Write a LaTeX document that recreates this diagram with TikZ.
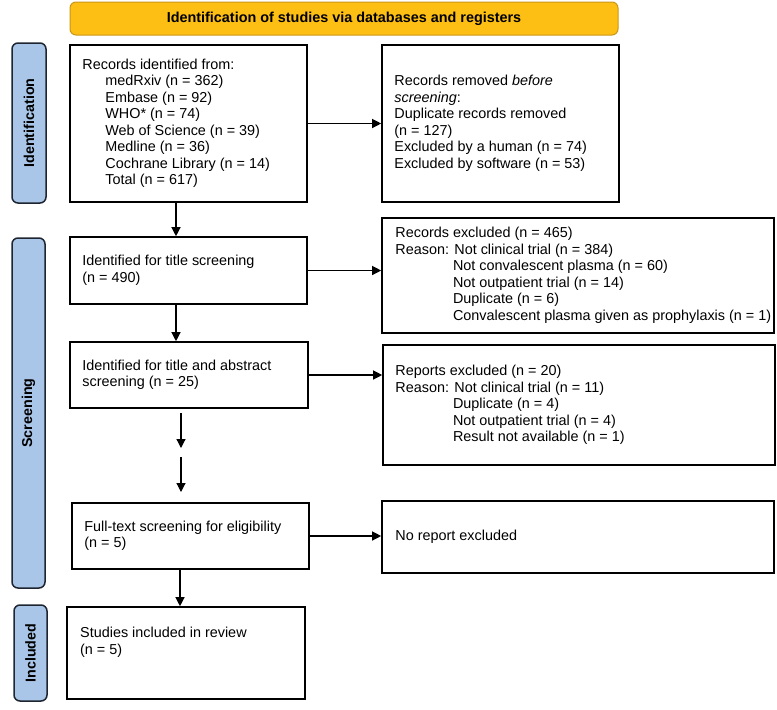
\documentclass[tikz,border=0pt]{standalone}
\usepackage{fontspec}
\setmainfont{Liberation Sans}
\usetikzlibrary{arrows.meta}
\definecolor{bannerfill}{HTML}{FDBF14}
\definecolor{bannerdraw}{HTML}{C9961A}
\definecolor{barfill}{HTML}{A9C6E8}
\definecolor{bardraw}{HTML}{1E2530}
\begin{document}
\begin{tikzpicture}[x=1pt,y=-1pt,
  box/.style={draw=black, line width=1.6pt, rectangle, inner sep=0pt, fill=white},
  txt/.style={inner sep=0pt, align=left, font=\fontsize{14.4}{16.5}\selectfont},
  bar/.style={draw=bardraw, line width=1.5pt, fill=barfill, rounded corners=6pt, inner sep=0pt},
  barlabel/.style={rotate=90, inner sep=0pt, font=\bfseries\fontsize{14.3}{16}\selectfont},
  arr/.style={line width=1.2pt, -{Triangle[length=9pt,width=9pt]}}]
\useasboundingbox (0,0) rectangle (777,710);

% banner
\node[draw=bannerdraw, line width=1pt, fill=bannerfill, rounded corners=6pt,
      minimum width=548pt, minimum height=33pt, inner sep=0pt] (ban) at (344,18.5) {};
\node[inner sep=0pt, font=\bfseries\fontsize{14.4}{16}\selectfont] (bant) at (ban.center)
  {Identification of studies via databases and registers};

% side bars
\node[bar, minimum width=34pt, minimum height=160pt] (bid) at (29,123) {};
\node[barlabel] (bidt) at (bid.center) {Identification};
\node[bar, minimum width=33pt, minimum height=350pt] (bsc) at (28.5,413) {};
\node[barlabel] (bsct) at (bsc.center) {Screening};
\node[bar, minimum width=33pt, minimum height=96pt] (bin) at (30.5,653) {};
\node[barlabel] (bint) at (bin.center) {Included};

% boxes
\node[box, minimum width=237pt, minimum height=157pt] (b1) at (188.5,123.5) {};
\node[box, minimum width=237pt, minimum height=157pt] (b2) at (500.5,123.5) {};
\node[box, minimum width=237pt, minimum height=67pt] (b3) at (188.5,270.5) {};
\node[box, minimum width=392pt, minimum height=115pt] (b4) at (578,275.5) {};
\node[box, minimum width=238pt, minimum height=66pt] (b5) at (189,375) {};
\node[box, minimum width=392pt, minimum height=120pt] (b6) at (579,405) {};
\node[box, minimum width=237pt, minimum height=66pt] (b7) at (190.5,536) {};
\node[box, minimum width=392pt, minimum height=72pt] (b8) at (578,537) {};
\node[box, minimum width=238pt, minimum height=92pt] (b9) at (186,653) {};

% texts
\node[txt, anchor=west] (t1) at ([xshift=13pt]b1.west) {Records identified from:\\
\hspace*{23pt}medRxiv (n = 362)\\
\hspace*{23pt}Embase (n = 92)\\
\hspace*{23pt}WHO* (n = 74)\\
\hspace*{23pt}Web of Science (n = 39)\\
\hspace*{23pt}Medline (n = 36)\\
\hspace*{23pt}Cochrane Library (n = 14)\\
\hspace*{23pt}Total (n = 617)};

\node[txt, anchor=west] (t2) at ([xshift=13pt]b2.west) {Records removed \textit{before}\\
\textit{screening}:\\
Duplicate records removed\\
(n = 127)\\
Excluded by a human (n = 74)\\
Excluded by software (n = 53)};

\node[txt, anchor=west] (t3) at ([xshift=13pt]b3.west) {Identified for title screening\\(n = 490)};

\node[txt, anchor=west] (t4) at ([xshift=14pt]b4.west) {Records excluded (n = 465)\\
Reason: Not clinical trial (n = 384)\\
\hphantom{Reason:}\ Not convalescent plasma (n = 60)\\
\hphantom{Reason:}\ Not outpatient trial (n = 14)\\
\hphantom{Reason:}\ Duplicate (n = 6)\\
\hphantom{Reason:}\ Convalescent plasma given as prophylaxis (n = 1)};

\node[txt, anchor=west] (t5) at ([xshift=13pt]b5.west) {Identified for title and abstract\\screening (n = 25)};

\node[txt, anchor=west] (t6) at ([xshift=13pt]b6.west) {Reports excluded (n = 20)\\
Reason: Not clinical trial (n = 11)\\
\hphantom{Reason:}\ Duplicate (n = 4)\\
\hphantom{Reason:}\ Not outpatient trial (n = 4)\\
\hphantom{Reason:}\ Result not available (n = 1)};

\node[txt, anchor=west] (t7) at ([xshift=13pt]b7.west) {Full-text screening for eligibility\\(n = 5)};

\node[txt, anchor=west] (t8) at ([xshift=14pt]b8.west) {No report excluded};

\node[txt, anchor=north west] (t9) at (80,627) {Studies included in review\\(n = 5)};

% arrow helper coordinates
\coordinate (xa) at (176,0);
\coordinate (xb) at (180,0);
\coordinate (m1) at (181,413);
\coordinate (m2) at (181,448);
\coordinate (m3) at (181,457);
\coordinate (m4) at (181,492);

% arrows
\draw[arr] (b1.east) -- (b1.east -| b2.west);
\draw[arr] (b3.east) -- (b3.east -| b4.west);
\draw[arr] (b5.east) -- (b5.east -| b6.west);
\draw[arr] (b7.east) -- (b7.east -| b8.west);
\draw[arr] (b1.south -| xa) -- (b3.north -| xa);
\draw[arr] (b3.south -| xa) -- (b5.north -| xa);
\draw[arr] (m1) -- (m2);
\draw[arr] (m3) -- (m4);
\draw[arr] (b7.south -| xb) -- (b9.north -| xb);
\end{tikzpicture}
\end{document}
